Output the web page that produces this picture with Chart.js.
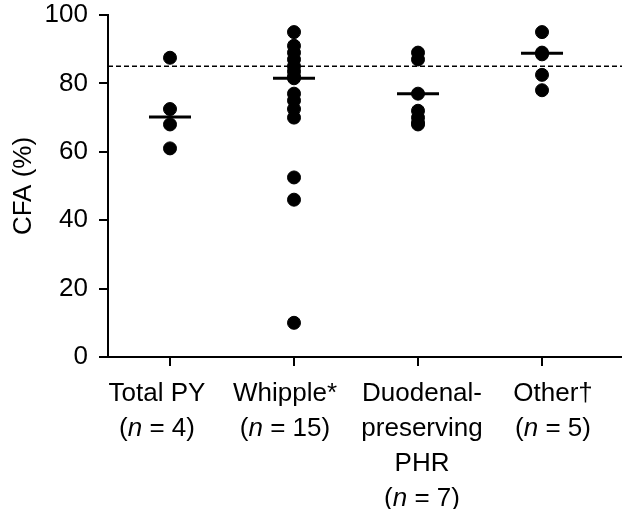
<!DOCTYPE html>
<html>
<head>
<meta charset="utf-8">
<script src="https://cdn.jsdelivr.net/npm/chart.js@4"></script>
<style>
  html, body { margin: 0; padding: 0; background: #fff; }
  #wrap { width: 622px; height: 509px; }
</style>
</head>
<body>
<div id="wrap"><canvas id="myChart"></canvas></div>
<script>
// group names (lines of the x label) and group sizes
var groupNames = [['Total PY'], ['Whipple*'], ['Duodenal-', 'preserving', 'PHR'], ['Other\u2020']];
var groupN = [4, 15, 7, 5];
// CFA values
var totalPY = [87.5, 72.5, 68, 61];
var whipple = [95, 91, 89, 87, 85, 83.5, 82, 81.5, 77, 75, 72.5, 70, 52.5, 46, 10];
var duodenal = [89, 87, 77, 72, 70, 68.5, 68];
var other = [95, 89, 88.5, 82.5, 78];
var medians = [70.2, 81.5, 77, 88.8];
var cutoff = 85;
var yTicks = [0, 20, 40, 60, 80, 100];

var groups = [totalPY, whipple, duodenal, other];
var pts = [];
groups.forEach(function(g, i) {
    g.forEach(function(v) { pts.push({x: i + 1, y: v}); });
});
var medPts = medians.map(function(m, i) { return {x: i + 1, y: m}; });

var FONT = '"Liberation Sans", Arial, Helvetica, sans-serif';
var FS = 26;
var labelShift = [-13, -9, 4, 11]; // labels in the figure sit a little off their ticks

/*x轴标签，n 用斜体*/
var xLabels = {
    id: 'xLabels',
    afterDraw: function(chart) {
        var ctx = chart.ctx;
        var xs = chart.scales.x;
        var y0 = chart.scales.y.bottom + 37;
        var lh = 35;
        ctx.save();
        ctx.fillStyle = '#000';
        ctx.textBaseline = 'middle';
        groupNames.forEach(function(lines, i) {
            var cx = xs.getPixelForValue(i + 1) + labelShift[i];
            ctx.font = FS + 'px ' + FONT;
            ctx.textAlign = 'center';
            lines.forEach(function(t, k) { ctx.fillText(t, cx, y0 + k * lh); });
            var yy = y0 + lines.length * lh;
            var a = '(', b = 'n', c = ' = ' + groupN[i] + ')';
            ctx.font = FS + 'px ' + FONT;
            var wa = ctx.measureText(a).width, wc = ctx.measureText(c).width;
            ctx.font = 'italic ' + FS + 'px ' + FONT;
            var wb = ctx.measureText(b).width;
            var sx = cx - (wa + wb + wc) / 2;
            ctx.textAlign = 'left';
            ctx.font = FS + 'px ' + FONT;
            ctx.fillText(a, sx, yy);
            ctx.font = 'italic ' + FS + 'px ' + FONT;
            ctx.fillText(b, sx + wa, yy);
            ctx.font = FS + 'px ' + FONT;
            ctx.fillText(c, sx + wa + wb, yy);
        });
        ctx.restore();
    }
};

var ctx = document.getElementById('myChart').getContext('2d');
var myChart = new Chart(ctx, {
    type: 'scatter',
    data: {
        datasets: [{
            data: [{x: 0.5, y: cutoff}, {x: 4.645, y: cutoff}],
            type: 'line',
            borderColor: '#000',
            borderWidth: 1.5,
            borderDash: [5, 3],
            pointRadius: 0,
            order: 3
        }, {
            data: pts,
            backgroundColor: '#000',
            borderColor: '#000',
            borderWidth: 1,
            pointRadius: 6.5,
            order: 2
        }, {
            data: medPts,
            pointStyle: 'line',
            pointRadius: 21,
            borderColor: '#000',
            borderWidth: 3,
            order: 1
        }]
    },
    options: {
        responsive: true,
        maintainAspectRatio: false,
        animation: false,
        plugins: {
            legend: { display: false },
            tooltip: { enabled: false }
        },
        layout: {
            autoPadding: false,
            padding: { left: 0, right: 0, top: 15, bottom: 0 }
        },
        scales: {
            x: {
                type: 'linear',
                min: 0.5,
                max: 4.645,
                afterBuildTicks: function(s) {
                    s.ticks = [1, 2, 3, 4].map(function(v) { return {value: v}; });
                },
                afterFit: function(s) {
                    s.height = 152;
                    s.paddingLeft = 0;
                    s.paddingRight = 0;
                },
                ticks: { display: false },
                grid: { drawOnChartArea: false, tickLength: 9, color: '#000', lineWidth: 2 },
                border: { color: '#000', width: 2 }
            },
            y: {
                min: 0,
                max: 100,
                afterBuildTicks: function(s) {
                    s.ticks = yTicks.map(function(v) { return {value: v}; });
                },
                afterFit: function(s) {
                    s.width = 108;
                    s.paddingTop = 0;
                    s.paddingBottom = 0;
                },
                ticks: {
                    color: '#000',
                    padding: 11,
                    font: { family: FONT, size: FS }
                },
                title: {
                    display: true,
                    text: 'CFA (%)',
                    color: '#000',
                    padding: { top: 8, bottom: 0 },
                    font: { family: FONT, size: FS }
                },
                grid: { drawOnChartArea: false, tickLength: 9, color: '#000', lineWidth: 2 },
                border: { color: '#000', width: 2 }
            }
        }
    },
    plugins: [xLabels]
});
</script>
</body>
</html>
